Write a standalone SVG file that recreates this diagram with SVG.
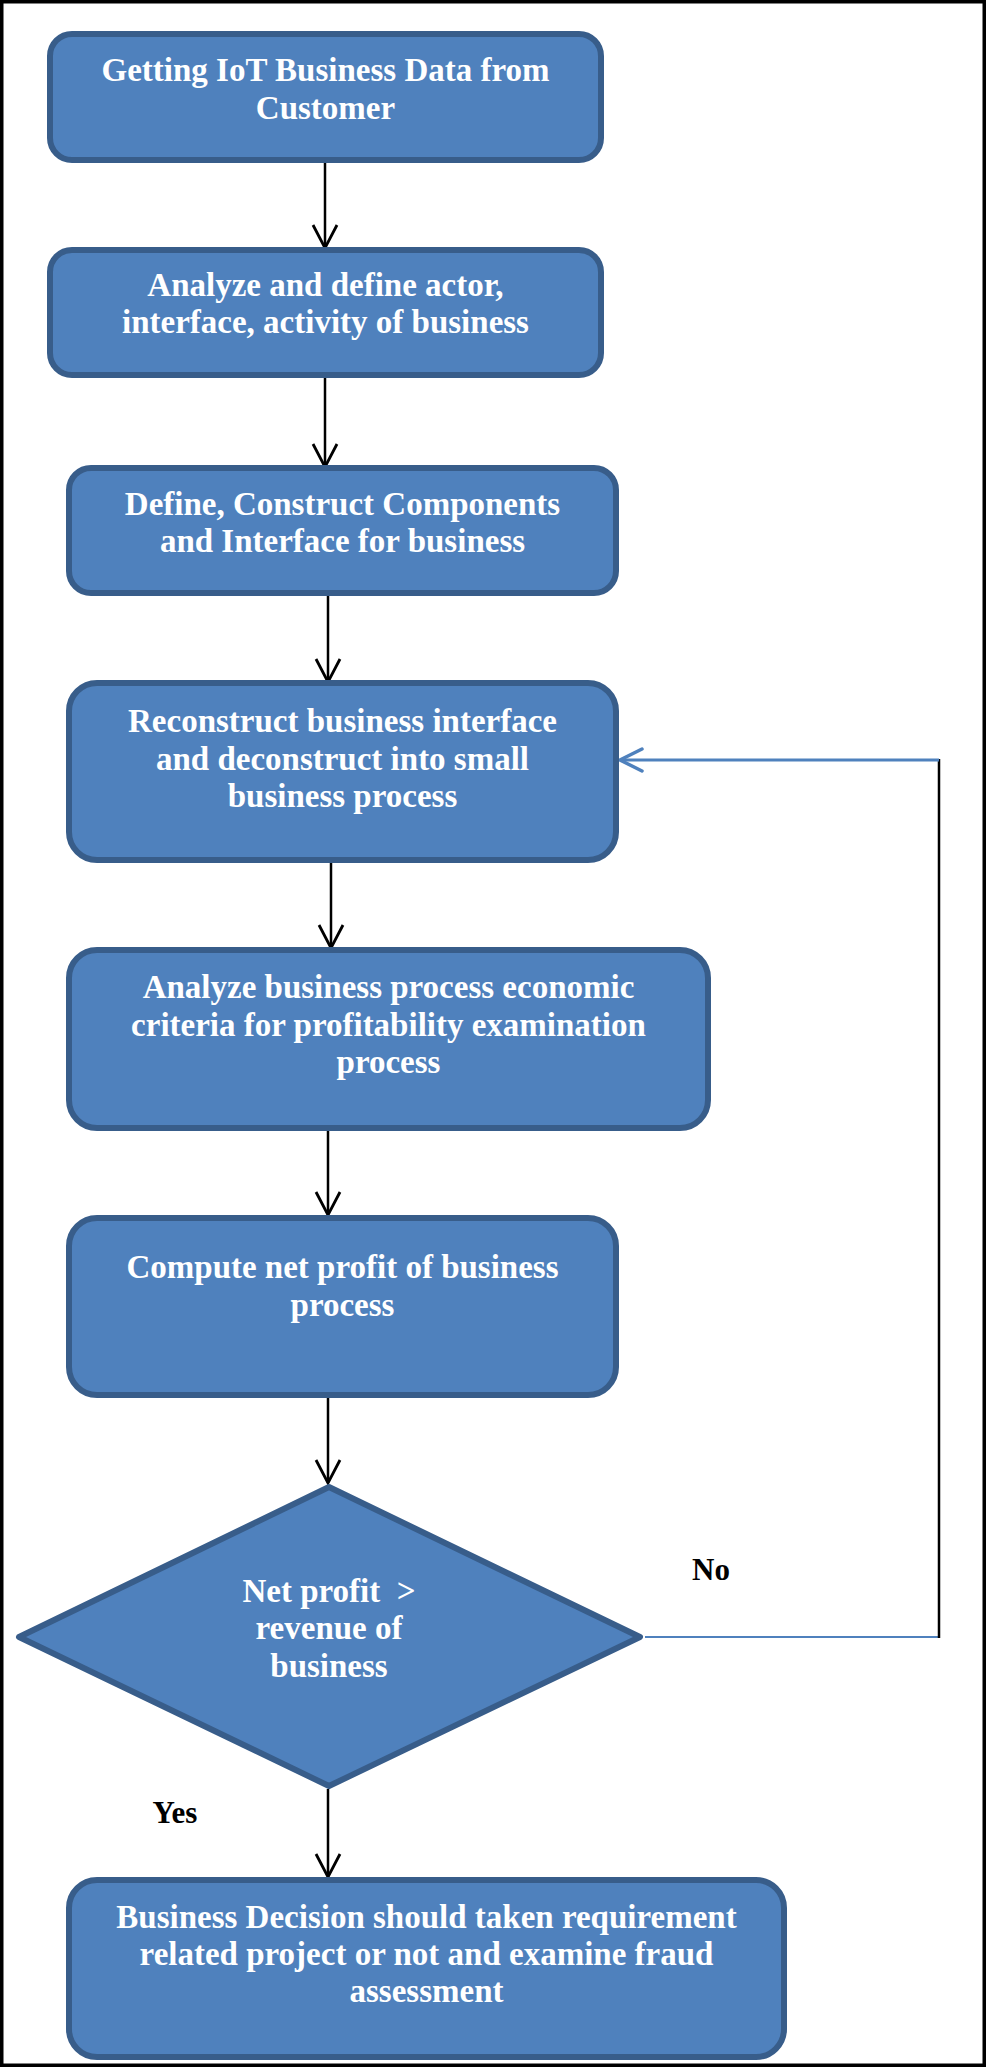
<svg xmlns="http://www.w3.org/2000/svg" width="986" height="2067" viewBox="0 0 986 2067">
<style>
.box{fill:#4F81BD;stroke:#385D8A;stroke-width:6}
.t{font-family:"Liberation Serif","Times New Roman",serif;font-weight:bold;font-size:33px;fill:#FFFFFF;text-anchor:middle}
.lbl{font-family:"Liberation Serif","Times New Roman",serif;font-weight:bold;font-size:31px;fill:#000000;text-anchor:middle}
.arr{stroke:#000000;stroke-width:2.5;fill:none;marker-end:url(#ah)}
</style>
<defs>
<marker id="ah" markerUnits="userSpaceOnUse" markerWidth="30" markerHeight="30" refX="25" refY="15" orient="auto" overflow="visible">
<path d="M2,3 L25,15 L2,27" fill="none" stroke="#000000" stroke-width="2.8"/>
</marker>
<marker id="ahb" markerUnits="userSpaceOnUse" markerWidth="30" markerHeight="30" refX="25" refY="15" orient="auto" overflow="visible">
<path d="M3,4 L25,15 L3,26" fill="none" stroke="#4F81BD" stroke-width="3.5" stroke-linecap="round"/>
</marker>
</defs>
<rect x="1.75" y="1.75" width="982.5" height="2063.5" fill="#FFFFFF" stroke="#000000" stroke-width="3.5"/>

<g id="connectors">
<path class="arr" d="M325,163 V248"/>
<path class="arr" d="M325,378 V467"/>
<path class="arr" d="M328,596 V682"/>
<path class="arr" d="M331,863 V948"/>
<path class="arr" d="M328,1131 V1215"/>
<path class="arr" d="M328,1398 V1483"/>
<path class="arr" d="M328,1789 V1877"/>
<path d="M645,1637 H939" stroke="#4F81BD" stroke-width="2" fill="none"/>
<path d="M939,1638 V759" stroke="#000000" stroke-width="2.5" fill="none"/>
<path d="M939,760 H620" stroke="#4F81BD" stroke-width="3" fill="none" marker-end="url(#ahb)"/>
<text class="lbl" x="711" y="1580">No</text>
<text class="lbl" x="175" y="1823">Yes</text>
</g>

<g id="n1">
<rect class="box" x="50" y="34" width="551" height="126" rx="22"/>
<text class="t" x="325.5" y="81">Getting IoT Business Data from</text>
<text class="t" x="325.5" y="119">Customer</text>
</g>
<g id="n2">
<rect class="box" x="50" y="250" width="551" height="125" rx="22"/>
<text class="t" x="325.5" y="296">Analyze and define actor,</text>
<text class="t" x="325.5" y="333">interface, activity of business</text>
</g>
<g id="n3">
<rect class="box" x="69" y="468" width="547" height="125" rx="22"/>
<text class="t" x="342.5" y="515">Define, Construct Components</text>
<text class="t" x="342.5" y="552">and Interface for business</text>
</g>
<g id="n4">
<rect class="box" x="69" y="683" width="547" height="177" rx="28"/>
<text class="t" x="342.5" y="732">Reconstruct business interface</text>
<text class="t" x="342.5" y="770">and deconstruct into small</text>
<text class="t" x="342.5" y="807">business process</text>
</g>
<g id="n5">
<rect class="box" x="69" y="950" width="639" height="178" rx="28"/>
<text class="t" x="388.5" y="998">Analyze business process economic</text>
<text class="t" x="388.5" y="1036">criteria for profitability examination</text>
<text class="t" x="388.5" y="1073">process</text>
</g>
<g id="n6">
<rect class="box" x="69" y="1218" width="547" height="177" rx="28"/>
<text class="t" x="342.5" y="1278">Compute net profit of business</text>
<text class="t" x="342.5" y="1316">process</text>
</g>
<g id="n7">
<polygon class="box" points="329,1487 640,1637 329,1786 19,1637" stroke-linejoin="round"/>
<text class="t" x="329" y="1602" xml:space="preserve">Net profit  &gt;</text>
<text class="t" x="329" y="1639">revenue of</text>
<text class="t" x="329" y="1677">business</text>
</g>
<g id="n8">
<rect class="box" x="69" y="1880" width="715" height="177" rx="28"/>
<text class="t" x="426.5" y="1928">Business Decision should taken requirement</text>
<text class="t" x="426.5" y="1965">related project or not and examine fraud</text>
<text class="t" x="426.5" y="2002">assessment</text>
</g>
</svg>
